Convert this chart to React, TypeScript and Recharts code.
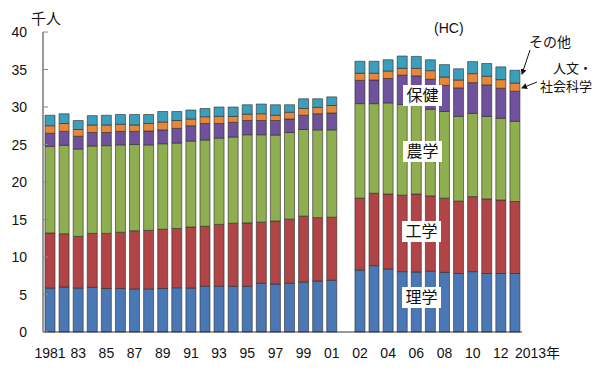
import { BarChart, Bar, XAxis, YAxis } from 'recharts'

// 1981–2001, gap slot, 2002–2013
const years = [
  '1981', '1982', '1983', '1984', '1985', '1986', '1987', '1988', '1989', '1990', '1991',
  '1992', '1993', '1994', '1995', '1996', '1997', '1998', '1999', '2000', '2001',
  '',
  '2002', '2003', '2004', '2005', '2006', '2007', '2008', '2009', '2010', '2011', '2012', '2013',
]

const tickLabels: Record<string, string> = {
  '1981': '1981', '1983': '83', '1985': '85', '1987': '87', '1989': '89', '1991': '91',
  '1993': '93', '1995': '95', '1997': '97', '1999': '99', '2001': '01',
  '2002': '02', '2004': '04', '2006': '06', '2008': '08', '2010': '10', '2012': '12',
  '2013': '2013年',
}

const yTicks = [0, 5, 10, 15, 20, 25, 30, 35, 40]

// 千人
const science = [
  5.85, 6.0, 5.85, 5.95, 5.8, 5.8, 5.75, 5.75, 5.8, 5.9, 5.85,
  6.1, 6.1, 6.1, 6.1, 6.5, 6.4, 6.5, 6.65, 6.8, 6.9,
  null,
  8.25, 8.85, 8.4, 8.05, 8.0, 8.1, 7.95, 7.8, 8.05, 7.8, 7.8, 7.8,
]
const engineering = [
  7.35, 7.1, 6.9, 7.2, 7.35, 7.5, 7.75, 7.8, 7.9, 7.9, 8.15,
  8.0, 8.25, 8.4, 8.45, 8.15, 8.4, 8.55, 8.8, 8.45, 8.4,
  null,
  9.6, 9.65, 10.0, 10.2, 10.4, 10.05, 9.9, 9.65, 10.0, 9.95, 9.8, 9.6,
]
const agriculture = [
  11.55, 11.8, 11.65, 11.65, 11.7, 11.65, 11.5, 11.4, 11.4, 11.4, 11.45,
  11.5, 11.5, 11.5, 11.75, 11.65, 11.45, 11.55, 11.55, 11.7, 11.65,
  null,
  12.6, 11.95, 12.15, 12.1, 11.8, 11.55, 11.55, 11.3, 11.1, 11.0, 10.9, 10.7,
]
const health = [
  1.75, 1.85, 1.7, 1.8, 1.75, 1.8, 1.75, 1.85, 1.85, 1.95, 2.05,
  2.2, 1.95, 1.95, 1.9, 1.9, 1.95, 1.8, 1.9, 2.15, 2.25,
  null,
  3.1, 3.15, 3.25, 3.9, 3.95, 4.0, 3.5, 3.8, 4.1, 4.2, 4.0, 4.0,
]
const humanities = [
  1.0, 1.05, 0.9, 1.0, 1.0, 0.95, 0.85, 1.0, 1.05, 1.05, 0.9,
  0.9, 0.95, 0.8, 0.85, 0.9, 0.7, 0.9, 0.9, 0.85, 1.0,
  null,
  0.95, 0.9, 1.0, 0.9, 1.0, 1.15, 1.1, 1.05, 1.2, 1.15, 1.15, 1.1,
]
const other = [
  1.4, 1.3, 1.2, 1.25, 1.3, 1.3, 1.4, 1.2, 1.4, 1.2, 1.2,
  1.1, 1.25, 1.25, 1.25, 1.3, 1.4, 1.0, 1.3, 1.15, 1.15,
  null,
  1.6, 1.6, 1.5, 1.65, 1.6, 1.45, 1.65, 1.5, 1.6, 1.7, 1.7, 1.7,
]

const data = years.map((year, i) => ({
  year,
  science: science[i],
  engineering: engineering[i],
  agriculture: agriculture[i],
  health: health[i],
  humanities: humanities[i],
  other: other[i],
}))

const FONT = "'Liberation Sans', Arial, 'Noto Sans CJK JP', sans-serif"
const JP = "'Noto Sans CJK JP', sans-serif"

const series = [
  { key: 'science', color: '#4a78b4' },
  { key: 'engineering', color: '#b04446' },
  { key: 'agriculture', color: '#8eae4f' },
  { key: 'health', color: '#70519c' },
  { key: 'humanities', color: '#e8863a' },
  { key: 'other', color: '#3b9fbc' },
]

function XTick({ x, y, payload }: any) {
  const label = tickLabels[payload.value]
  if (!label) return null
  const is2013 = payload.value === '2013'
  return (
    <text
      x={x}
      y={y + 18}
      textAnchor={is2013 ? 'start' : 'middle'}
      fontSize={14}
      fontFamily={FONT}
      fill="#111"
    >
      {label}
    </text>
  )
}

function YTick({ x, y, payload }: any) {
  return (
    <g>
      <line x1={x} x2={x + 5} y1={y} y2={y} stroke="#888" strokeWidth={1} />
      <text x={x - 16} y={y + 5} textAnchor="end" fontSize={14} fontFamily={FONT} fill="#111">
        {payload.value}
      </text>
    </g>
  )
}

function BoxLabel({ x, y, text }: { x: number; y: number; text: string }) {
  return (
    <g>
      <rect x={x} y={y} width={39} height={21} fill="#fff" />
      <text x={x + 19.5} y={y + 16} textAnchor="middle" fontSize={16} fontFamily={JP} fill="#111">
        {text}
      </text>
    </g>
  )
}

export default function App() {
  return (
    <div style={{ position: 'absolute', left: 0, top: 0, width: 600, height: 372, background: '#fff' }}>
      <BarChart
        width={600}
        height={372}
        data={data}
        margin={{ top: 32, right: 78, bottom: 0, left: 0 }}
        barSize={10}
      >
        <XAxis
          dataKey="year"
          height={40}
          interval={0}
          tick={<XTick />}
          tickLine={false}
          axisLine={{ stroke: '#333', strokeWidth: 1 }}
        />
        <YAxis
          width={43}
          domain={[0, 40]}
          ticks={yTicks}
          interval={0}
          tickSize={0}
          tickMargin={0}
          tick={<YTick />}
          tickLine={false}
          axisLine={{ stroke: '#999', strokeWidth: 2 }}
        />
        {series.map((s) => (
          <Bar
            key={s.key}
            dataKey={s.key}
            stackId="a"
            fill={s.color}
            stroke="#2b2b2b"
            strokeWidth={0.6}
            isAnimationActive={false}
          />
        ))}
      </BarChart>
      <svg
        width={600}
        height={372}
        style={{ position: 'absolute', left: 0, top: 0, pointerEvents: 'none' }}
      >
        <defs>
          <marker id="arr" markerWidth="6" markerHeight="6" refX="5" refY="3" orient="auto">
            <path d="M0,0 L6,3 L0,6 Z" fill="#111" />
          </marker>
        </defs>
        <text x={31} y={24} fontSize={15} fontFamily={JP} fill="#111">千人</text>
        <text x={434} y={33} fontSize={14} fontFamily={FONT} fill="#111">(HC)</text>
        <text x={529} y={47} fontSize={14} fontFamily={JP} fill="#111">その他</text>
        <text x={553} y={73} fontSize={13} fontFamily={JP} fill="#111">人文・</text>
        <text x={540} y={91} fontSize={13} fontFamily={JP} fill="#111">社会科学</text>
        <line x1={530} y1={50} x2={522} y2={74} stroke="#111" strokeWidth={1} markerEnd="url(#arr)" />
        <line x1={537} y1={82} x2={522} y2={88} stroke="#111" strokeWidth={1} markerEnd="url(#arr)" />
        <BoxLabel x={403} y={85} text="保健" />
        <BoxLabel x={403} y={141} text="農学" />
        <BoxLabel x={402} y={221} text="工学" />
        <BoxLabel x={402} y={287} text="理学" />
      </svg>
    </div>
  )
}
